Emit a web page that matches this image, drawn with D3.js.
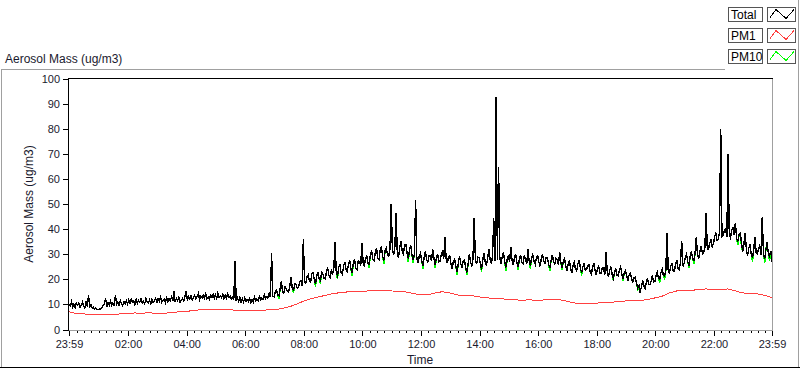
<!DOCTYPE html>
<html lang="en">
<head>
<meta charset="UTF-8">
<title>Aerosol Mass</title>
<script src="https://d3js.org/d3.v7.min.js"></script>
<style>
    body { margin: 0; background: #fff; font-family: "Liberation Sans", Arial, sans-serif; }
    svg { display: block; }
    .axis .tick text { font-size: 11px; fill: #1a1a2e; font-family: "Liberation Sans", Arial, sans-serif; }
    .axis .tick line { stroke: #000; shape-rendering: crispEdges; }
    .axis .domain { display: none; }
</style>
</head>
<body>
<svg id="chart"></svg>
<script>
    const width = 800, height = 369;

    // x axis: minutes after the 23:59 start
    const xTickMinutes = [0, 121, 241, 361, 481, 601, 721, 841, 961, 1081, 1201, 1321, 1440];
    const xTickLabels = ["23:59", "02:00", "04:00", "06:00", "08:00", "10:00", "12:00",
                         "14:00", "16:00", "18:00", "20:00", "22:00", "23:59"];
    const yTicks = [0, 10, 20, 30, 40, 50, 60, 70, 80, 90, 100];

    const seriesNames = ["Total", "PM1", "PM10"];
    const seriesColors = ["#000000", "#ff4040", "#00ff00"];

    // Total, one value every 2.5 minutes (one row per hour)
    const totalStep = 2.5;
    const totalValues = [
        10.2, 9.4, 11.0, 9.0, 10.1, 8.7, 10.6, 9.8, 10.5, 8.9, 9.6, 10.9, 9.3, 8.6, 11.2, 9.1, 13.8, 9.2, 9.9, 8.5, 8.9, 8.2, 8.6, 8.0,
        7.9, 8.3, 8.1, 8.8, 9.6, 10.4, 12.5, 9.2, 10.8, 9.6, 11.3, 9.7, 10.6, 9.4, 13.7, 10.1, 11.0, 9.8, 11.6, 10.2, 9.5, 11.1, 10.3, 11.4,
        10.1, 11.9, 10.5, 12.2, 10.8, 11.4, 9.9, 12.0, 10.4, 11.6, 10.9, 12.4, 10.6, 11.3, 10.2, 12.3, 11.0, 10.5, 11.8, 10.3, 12.1, 10.8, 11.5, 12.6,
        10.5, 12.4, 11.2, 12.9, 10.8, 11.7, 12.2, 10.7, 12.6, 11.1, 12.3, 11.5, 13.0, 11.3, 15.4, 11.0, 12.5, 11.6, 12.8, 10.9, 11.8, 12.4, 11.4, 13.1,
        15.5, 11.6, 13.0, 12.1, 13.4, 11.8, 12.7, 13.6, 12.2, 13.1, 14.5, 12.0, 13.3, 12.6, 13.8, 12.5, 14.2, 12.3, 13.0, 12.1, 13.7, 12.8, 14.1, 12.4,
        13.8, 12.5, 14.6, 12.9, 13.5, 12.8, 14.0, 12.3, 13.6, 12.6, 14.2, 12.9, 13.4, 12.2, 12.9, 11.9, 27.3, 11.5, 12.6, 11.2, 12.8, 11.0, 12.3, 10.9,
        12.6, 11.3, 12.0, 11.2, 12.4, 10.8, 11.9, 10.9, 12.9, 11.5, 12.2, 11.6, 13.2, 11.9, 12.5, 12.1, 13.8, 12.4, 13.1, 12.6, 14.5, 13.0, 30.7, 13.4,
        13.1, 15.0, 15.8, 13.8, 13.4, 16.2, 19.5, 14.7, 14.5, 17.0, 16.4, 15.2, 15.0, 17.5, 21.0, 16.0, 15.6, 18.3, 17.9, 16.4, 16.8, 18.8, 19.6, 17.4,
        36.0, 19.2, 18.5, 21.0, 21.8, 19.4, 19.0, 22.3, 22.6, 19.8, 18.3, 21.4, 23.0, 20.2, 19.6, 22.8, 22.2, 20.5, 20.1, 23.3, 24.5, 21.4, 20.8, 23.6,
        22.4, 24.6, 35.0, 22.7, 21.5, 24.9, 25.8, 22.6, 22.0, 25.4, 26.9, 23.8, 23.2, 26.1, 27.5, 24.1, 22.8, 26.6, 28.1, 24.5, 24.0, 27.4, 27.2, 25.3,
        34.5, 26.8, 25.1, 28.6, 29.4, 26.4, 26.0, 30.2, 31.2, 27.9, 27.5, 31.0, 32.4, 28.6, 28.0, 31.6, 33.1, 29.0, 27.8, 31.5, 32.6, 29.8, 29.3, 32.2,
        50.0, 31.5, 29.8, 33.2, 46.5, 30.4, 28.6, 32.9, 35.2, 31.3, 30.1, 33.8, 34.0, 30.5, 28.3, 31.8, 33.6, 29.6, 27.9, 30.2, 51.7, 28.4, 26.5, 29.4,
        30.5, 27.3, 25.4, 28.9, 31.2, 28.0, 26.8, 29.6, 29.5, 27.4, 32.0, 28.6, 25.9, 28.3, 30.1, 27.0, 27.2, 29.8, 31.0, 28.1, 37.0, 28.5, 26.5, 29.1,
        29.5, 26.0, 24.2, 27.4, 28.0, 25.1, 23.0, 26.6, 29.2, 26.3, 24.6, 27.5, 27.8, 24.9, 22.8, 26.2, 30.0, 27.1, 25.2, 28.3, 44.5, 27.6, 26.1, 28.9,
        28.8, 26.2, 24.0, 27.8, 30.5, 27.0, 25.5, 28.4, 32.0, 28.1, 26.3, 29.0, 44.5, 27.2, 93.0, 27.8, 65.0, 28.3, 26.0, 29.1, 30.8, 26.9, 24.8, 28.0,
        29.6, 27.1, 33.0, 27.8, 25.6, 28.9, 30.2, 26.8, 24.9, 28.2, 29.8, 27.0, 26.2, 29.3, 28.7, 26.1, 32.0, 27.4, 25.4, 28.5, 29.9, 27.2, 26.0, 28.8,
        29.5, 26.9, 25.2, 28.3, 30.1, 27.3, 26.4, 28.8, 28.6, 25.9, 24.5, 27.6, 29.8, 27.1, 26.2, 28.5, 27.9, 25.6, 31.0, 26.8, 24.8, 27.3, 28.2, 25.4,
        23.5, 26.2, 27.6, 24.3, 22.8, 25.7, 26.9, 24.0, 23.4, 26.3, 27.8, 24.6, 22.6, 25.1, 26.2, 23.8, 23.9, 25.6, 25.8, 23.0, 22.1, 24.9, 26.4, 23.7,
        21.8, 24.0, 25.3, 22.6, 22.5, 24.8, 24.6, 21.9, 30.8, 23.2, 21.0, 23.5, 24.9, 22.1, 20.6, 23.0, 24.0, 21.7, 21.5, 23.8, 25.1, 22.0, 20.4, 22.7,
        23.6, 21.2, 19.8, 21.9, 22.5, 20.1, 18.9, 20.6, 21.0, 18.4, 16.5, 17.6, 14.8, 17.1, 19.6, 17.5, 16.2, 18.9, 20.5, 18.2, 17.8, 19.4, 21.6, 19.0,
        19.2, 21.5, 22.9, 20.4, 20.0, 22.8, 24.1, 21.6, 21.3, 23.5, 38.5, 23.0, 22.6, 25.1, 26.5, 23.4, 23.4, 26.0, 27.8, 24.5, 24.0, 26.6, 35.5, 25.2,
        26.3, 28.8, 30.1, 27.0, 25.8, 29.4, 31.2, 28.1, 27.5, 30.6, 37.0, 29.3, 28.6, 31.5, 33.4, 30.2, 30.5, 32.8, 46.5, 32.0, 32.2, 34.6, 35.8, 33.1,
        34.2, 37.0, 38.4, 35.6, 36.0, 38.9, 80.0, 37.1, 37.5, 39.6, 40.2, 36.9, 70.0, 38.2, 36.8, 39.5, 41.0, 37.7, 42.6, 36.4, 35.2, 37.9, 38.5, 34.6,
        31.0, 34.2, 38.5, 32.0, 29.4, 32.6, 34.0, 30.1, 28.6, 31.7, 37.0, 30.8, 30.2, 32.4, 33.5, 29.9, 45.0, 30.6, 28.0, 31.9, 35.0, 30.3, 29.2, 31.4, 27.0
    ];

    // PM10, same 2.5 minute steps (mostly hidden under Total)
    const pm10Values = [
        10.2, 9.4, 11.0, 9.0, 10.1, 8.7, 10.6, 9.8, 10.5, 8.9, 9.6, 10.9, 9.3, 8.6, 11.2, 9.1, 13.8, 9.2, 9.9, 8.5, 8.9, 8.2, 8.6, 8.0,
        7.9, 8.3, 8.1, 8.8, 9.6, 10.4, 12.5, 9.2, 10.8, 9.6, 11.3, 9.7, 10.6, 9.4, 13.7, 10.1, 11.0, 9.8, 11.6, 10.2, 9.5, 11.1, 10.3, 11.4,
        10.1, 11.9, 10.5, 12.2, 10.8, 11.4, 9.9, 12.0, 10.4, 11.6, 10.9, 12.4, 10.6, 11.3, 10.2, 12.3, 11.0, 10.5, 11.8, 10.3, 12.1, 10.8, 11.5, 12.6,
        10.5, 12.4, 11.2, 12.9, 10.8, 11.7, 12.2, 10.7, 12.6, 11.1, 12.3, 11.5, 13.0, 11.3, 15.4, 11.0, 12.5, 11.6, 12.8, 10.9, 11.8, 12.4, 11.4, 13.1,
        15.5, 11.6, 13.0, 12.1, 13.4, 11.8, 12.7, 13.6, 12.2, 13.1, 14.5, 12.0, 13.3, 12.6, 13.8, 12.5, 14.2, 12.3, 13.0, 12.1, 13.7, 12.8, 14.1, 12.4,
        13.8, 12.5, 14.6, 12.9, 13.5, 12.8, 14.0, 12.3, 13.6, 12.6, 14.2, 12.9, 13.4, 12.2, 12.9, 11.9, 27.3, 11.5, 12.6, 11.2, 12.8, 11.0, 12.3, 10.9,
        12.6, 11.3, 12.0, 11.2, 12.4, 10.8, 11.9, 10.9, 12.9, 11.5, 12.2, 11.6, 13.2, 11.9, 12.5, 12.1, 13.8, 12.4, 13.1, 12.6, 14.5, 13.0, 30.7, 13.4,
        13.1, 15.0, 15.8, 13.8, 12.2, 16.2, 19.5, 14.7, 14.5, 17.0, 16.4, 15.2, 15.0, 17.5, 21.0, 16.0, 14.5, 18.3, 17.9, 16.4, 16.8, 18.8, 19.6, 17.4,
        36.0, 19.2, 18.5, 21.0, 21.8, 19.4, 19.0, 22.3, 22.6, 19.8, 17.0, 21.4, 23.0, 20.2, 18.3, 22.8, 22.2, 20.5, 20.1, 23.3, 24.5, 21.4, 20.8, 23.6,
        22.4, 24.6, 35.0, 22.7, 20.2, 24.9, 25.8, 22.6, 22.0, 25.4, 26.9, 23.8, 23.2, 26.1, 27.5, 24.1, 21.5, 26.6, 28.1, 24.5, 24.0, 27.4, 27.2, 25.3,
        34.5, 26.8, 25.1, 28.6, 29.4, 26.4, 24.5, 30.2, 31.2, 27.9, 27.5, 31.0, 32.4, 28.6, 28.0, 31.6, 33.1, 29.0, 26.3, 31.5, 32.6, 29.8, 29.3, 32.2,
        50.0, 31.5, 29.8, 33.2, 46.5, 30.4, 28.6, 32.9, 35.2, 31.3, 30.1, 33.8, 34.0, 30.5, 26.8, 31.8, 33.6, 29.6, 26.5, 30.2, 51.7, 28.4, 26.5, 29.4,
        30.5, 27.3, 24.2, 28.9, 31.2, 28.0, 26.8, 29.6, 29.5, 27.4, 32.0, 28.6, 24.6, 28.3, 30.1, 27.0, 27.2, 29.8, 31.0, 28.1, 37.0, 28.5, 26.5, 29.1,
        29.5, 26.0, 24.2, 27.4, 28.0, 25.1, 21.9, 26.6, 29.2, 26.3, 24.6, 27.5, 27.8, 24.9, 21.6, 26.2, 30.0, 27.1, 25.2, 28.3, 44.5, 27.6, 26.1, 28.9,
        28.8, 26.2, 22.8, 27.8, 30.5, 27.0, 25.5, 28.4, 32.0, 28.1, 26.3, 29.0, 44.5, 27.2, 93.0, 27.8, 65.0, 28.3, 26.0, 29.1, 30.8, 26.9, 23.5, 28.0,
        29.6, 27.1, 33.0, 27.8, 25.6, 28.9, 30.2, 26.8, 23.6, 28.2, 29.8, 27.0, 26.2, 29.3, 28.7, 26.1, 32.0, 27.4, 24.1, 28.5, 29.9, 27.2, 26.0, 28.8,
        29.5, 26.9, 25.2, 28.3, 30.1, 27.3, 26.4, 28.8, 28.6, 25.9, 23.2, 27.6, 29.8, 27.1, 26.2, 28.5, 27.9, 25.6, 31.0, 26.8, 23.6, 27.3, 28.2, 25.4,
        23.5, 26.2, 27.6, 24.3, 22.8, 25.7, 26.9, 24.0, 23.4, 26.3, 27.8, 24.6, 21.4, 25.1, 26.2, 23.8, 23.9, 25.6, 25.8, 23.0, 22.1, 24.9, 26.4, 23.7,
        21.8, 24.0, 25.3, 22.6, 22.5, 24.8, 24.6, 21.9, 30.8, 23.2, 21.0, 23.5, 24.9, 22.1, 19.5, 23.0, 24.0, 21.7, 21.5, 23.8, 25.1, 22.0, 19.3, 22.7,
        23.6, 21.2, 19.8, 21.9, 22.5, 20.1, 18.9, 20.6, 21.0, 18.4, 15.6, 17.6, 14.8, 17.1, 19.6, 17.5, 16.2, 18.9, 20.5, 18.2, 17.8, 19.4, 21.6, 19.0,
        19.2, 21.5, 22.9, 20.4, 18.8, 22.8, 24.1, 21.6, 20.0, 23.5, 38.5, 23.0, 22.6, 25.1, 26.5, 23.4, 23.4, 26.0, 27.8, 24.5, 24.0, 26.6, 35.5, 25.2,
        26.3, 28.8, 30.1, 27.0, 24.5, 29.4, 31.2, 28.1, 26.1, 30.6, 37.0, 29.3, 28.6, 31.5, 33.4, 30.2, 30.5, 32.8, 46.5, 32.0, 32.2, 34.6, 35.8, 33.1,
        34.2, 37.0, 38.4, 35.6, 36.0, 38.9, 80.0, 37.1, 37.5, 39.6, 40.2, 36.9, 70.0, 38.2, 36.8, 39.5, 41.0, 37.7, 42.6, 36.4, 33.6, 37.9, 38.5, 33.0,
        31.0, 34.2, 38.5, 32.0, 29.4, 32.6, 34.0, 30.1, 27.0, 31.7, 37.0, 30.8, 30.2, 32.4, 33.5, 29.9, 45.0, 30.6, 26.4, 31.9, 35.0, 30.3, 27.4, 31.4, 27.0
    ];

    // PM1, one value every 15 minutes
    const pm1Step = 15;
    const pm1Values = [
        7.1, 6.3, 6.2, 6.1, 6.1, 6.0, 6.1, 6.2,
        6.4, 6.6, 6.5, 6.7, 6.3, 6.4, 6.9, 7.0,
        7.2, 7.6, 7.9, 8.1, 8.0, 8.1, 7.9, 7.6,
        7.5, 7.5, 7.6, 7.8, 7.9, 8.3, 9.0, 10.0,
        11.3, 12.2, 13.0, 13.6, 14.3, 14.7, 15.0, 15.1,
        15.3, 15.4, 15.5, 15.5, 15.4, 15.2, 15.0, 14.4,
        13.8, 13.9, 14.6, 15.1, 14.6, 13.8, 13.6, 13.5,
        13.0, 12.6, 12.5, 12.3, 12.0, 11.8, 11.7, 11.9,
        11.4, 11.9, 12.0, 11.9, 11.3, 10.6, 10.4, 10.5,
        10.5, 10.8, 10.9, 11.1, 11.4, 11.6, 11.6, 11.9,
        12.6, 13.3, 14.6, 15.4, 15.7, 15.6, 16.0, 16.2,
        16.0, 15.9, 16.2, 15.4, 14.6, 14.3, 14.2, 13.6,
        12.8
    ];

    const svg = d3.select("#chart")
        .attr("width", width)
        .attr("height", height);

    const x = d3.scaleLinear().domain([0, 1440]).range([69, 772]);
    const y = d3.scaleLinear().domain([0, 100]).range([329.5, 79]);

    // outer panel frame
    const frame = svg.append("g").attr("shape-rendering", "crispEdges");
    frame.append("path").attr("d", "M1.5,367 V69.5 H724.5")
        .attr("fill", "none").attr("stroke", "#a0a0a0");
    frame.append("line").attr("x1", 798.5).attr("x2", 798.5).attr("y1", 0).attr("y2", 367)
        .attr("stroke", "#a0a0a0");
    frame.append("line").attr("x1", 0).attr("x2", 800).attr("y1", 367.5).attr("y2", 367.5)
        .attr("stroke", "#000");

    // panel title
    svg.append("text")
        .attr("x", 5).attr("y", 63)
        .style("font-size", "12px").style("fill", "#1a1a2e")
        .text("Aerosol Mass (ug/m3)");

    // axes
    svg.append("g")
        .attr("class", "axis")
        .attr("transform", "translate(68,0)")
        .call(d3.axisLeft(y).tickValues(yTicks).tickSize(5).tickPadding(3));

    const minorMinutes = d3.range(16, 1440, 15).filter(m => !xTickMinutes.includes(m));
    svg.append("g")
        .attr("class", "axis")
        .attr("transform", "translate(0,330)")
        .call(d3.axisBottom(x).tickValues(minorMinutes).tickSize(3).tickFormat(""));
    svg.append("g")
        .attr("class", "axis")
        .attr("transform", "translate(0,330)")
        .call(d3.axisBottom(x).tickValues(xTickMinutes).tickSize(6).tickPadding(4)
            .tickFormat((d, i) => xTickLabels[i]));

    svg.append("text")
        .attr("x", 420).attr("y", 364)
        .attr("text-anchor", "middle")
        .style("font-size", "12px").style("fill", "#1a1a2e")
        .text("Time");

    svg.append("text")
        .attr("transform", "translate(33,204) rotate(-90)")
        .attr("text-anchor", "middle")
        .style("font-size", "12px").style("fill", "#1a1a2e")
        .text("Aerosol Mass (ug/m3)");

    // plot lines
    const plot = svg.append("g").attr("shape-rendering", "crispEdges");
    const lineOf = step => d3.line().x((d, i) => x(i * step)).y(d => y(d));

    plot.append("path").datum(pm10Values)
        .attr("d", lineOf(totalStep))
        .attr("fill", "none").attr("stroke", seriesColors[2]).attr("stroke-width", 1.4);
    plot.append("path").datum(totalValues)
        .attr("d", lineOf(totalStep))
        .attr("fill", "none").attr("stroke", seriesColors[0]).attr("stroke-width", 1.4);
    plot.append("path").datum(pm1Values)
        .attr("d", lineOf(pm1Step))
        .attr("fill", "none").attr("stroke", seriesColors[1]).attr("stroke-width", 1);

    // plot area border
    plot.append("path").attr("d", "M68.5,331 V78.5 H772.5")
        .attr("fill", "none").attr("stroke", "#000");
    plot.append("path").attr("d", "M772.5,78.5 V330.5 H68.5")
        .attr("fill", "none").attr("stroke", "#a0a0a0");

    // legend
    const legend = svg.append("g").attr("shape-rendering", "crispEdges");
    seriesNames.forEach((name, i) => {
        const top = 7.5 + i * 21;
        legend.append("rect")
            .attr("x", 728.5).attr("y", top).attr("width", 34).attr("height", 14)
            .attr("fill", "#fff").attr("stroke", "#555");
        legend.append("text")
            .attr("x", 731).attr("y", top + 11.5)
            .style("font-size", "12px").style("fill", "#000")
            .text(name);
        legend.append("rect")
            .attr("x", 767.5).attr("y", top).attr("width", 28).attr("height", 14)
            .attr("fill", "#fff").attr("stroke", "#555");
        legend.append("path")
            .attr("d", `M770,${top + 10} L776,${top + 2} L786,${top + 11} L794,${top + 2}`)
            .attr("fill", "none").attr("stroke", seriesColors[i]);
    });
</script>
</body>
</html>
